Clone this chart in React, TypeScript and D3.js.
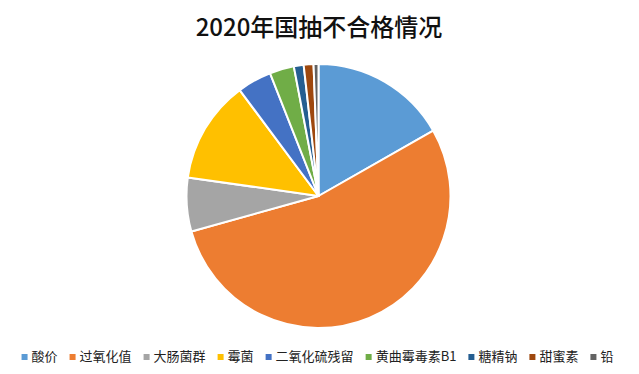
import * as d3 from "d3";
import { useEffect, useRef } from "react";

const categories = [
  "酸价",
  "过氧化值",
  "大肠菌群",
  "霉菌",
  "二氧化硫残留",
  "黄曲霉毒素B1",
  "糖精钠",
  "甜蜜素",
  "铅",
];
const counts = [28, 90, 11, 21, 7, 5, 2, 2, 1];
const colors = [
  "#5b9bd5",
  "#ed7d31",
  "#a5a5a5",
  "#ffc000",
  "#4472c4",
  "#70ad47",
  "#255e91",
  "#9e480e",
  "#636363",
];
const title = "2020年国抽不合格情况";

export default function App() {
  const ref = useRef<SVGSVGElement | null>(null);

  useEffect(() => {
    if (!ref.current) return;
    const svg = d3.select(ref.current);
    svg.selectAll("*").remove();

    const width = 639;
    const height = 374;
    const font = "'Noto Sans CJK SC', 'Noto Sans', sans-serif";

    svg
      .append("rect")
      .attr("width", width)
      .attr("height", height)
      .attr("fill", "#fff");

    svg
      .append("text")
      .attr("x", 319)
      .attr("y", 36)
      .attr("text-anchor", "middle")
      .attr("font-family", font)
      .attr("font-size", 24)
      .attr("font-weight", 500)
      .attr("fill", "#111")
      .text(title);

    const data = categories.map((c, i) => ({ c, v: counts[i], col: colors[i] }));
    const pie = d3
      .pie<{ c: string; v: number; col: string }>()
      .value((d) => d.v)
      .sort(null);
    const arc = d3
      .arc<d3.PieArcDatum<{ c: string; v: number; col: string }>>()
      .innerRadius(0)
      .outerRadius(132);

    svg
      .append("g")
      .attr("transform", "translate(318.5,196)")
      .selectAll("path")
      .data(pie(data))
      .join("path")
      .attr("d", arc)
      .attr("fill", (d) => d.data.col)
      .attr("stroke", "#fff")
      .attr("stroke-width", 2)
      .attr("stroke-linejoin", "round");

    // legend
    const legend = svg.append("g").attr("font-family", font).attr("font-size", 13);
    const items = legend
      .selectAll("g")
      .data(data)
      .join("g");
    items
      .append("rect")
      .attr("width", 6)
      .attr("height", 6)
      .attr("y", -7)
      .attr("fill", (d) => d.col);
    items
      .append("text")
      .attr("x", 10)
      .attr("y", 0)
      .attr("fill", "#222")
      .text((d) => d.c);

    // lay out items in a centred row
    const widths: number[] = [];
    items.each(function () {
      const t = (this as SVGGElement).querySelector("text") as SVGTextElement;
      widths.push(10 + t.getComputedTextLength());
    });
    const gap = 12;
    const total = d3.sum(widths) + gap * (widths.length - 1);
    let x = (width - total) / 2 - 2;
    items.attr("transform", (_d, i) => {
      const tx = x;
      x += widths[i] + gap;
      return `translate(${tx},361)`;
    });
  }, []);

  return (
    <svg
      ref={ref}
      width={639}
      height={374}
      style={{ display: "block", position: "absolute", left: 0, top: 0 }}
    />
  );
}
